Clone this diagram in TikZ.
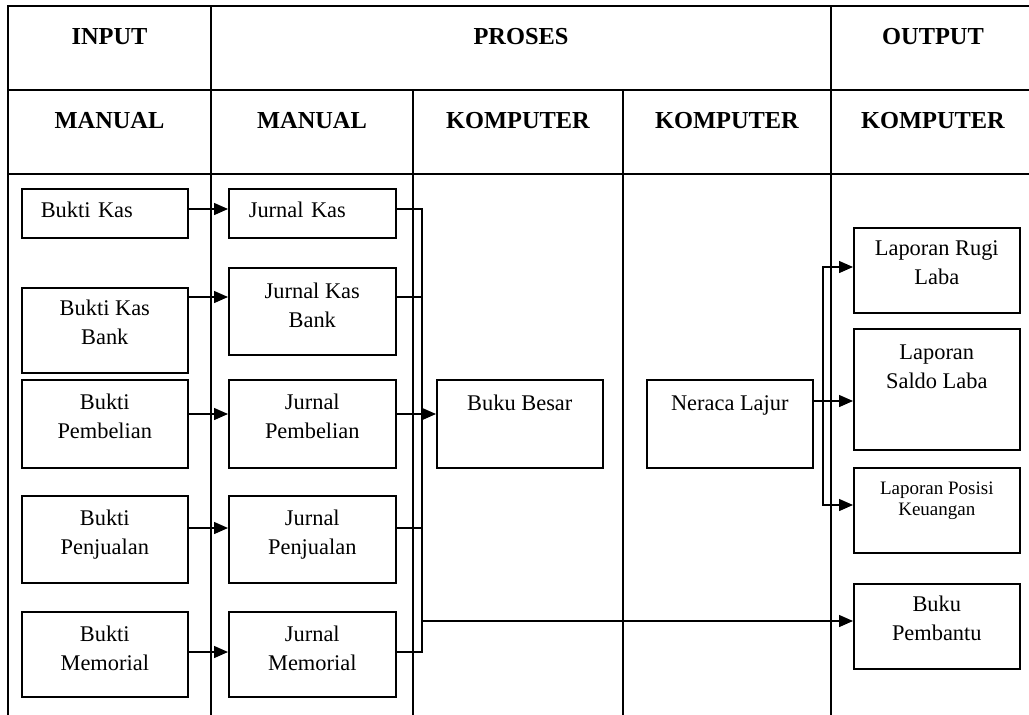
\documentclass[tikz,border=0pt]{standalone}
\usepackage{fontspec}
\setmainfont{Liberation Serif}
\usetikzlibrary{arrows.meta}
\tikzset{
  garis/.style={line width=1.8pt},
  judul/.style={font=\fontsize{24.4}{29}\selectfont\bfseries, anchor=base},
  kotak/.style={draw, line width=1.6pt, inner sep=0pt, align=center, anchor=north west,
    minimum width=166, font=\fontsize{22.4}{29}\selectfont},
  hubung/.style={line width=1.4pt},
  panah/.style={hubung, -{Triangle[length=14pt,width=12pt]}},
  panahdua/.style={hubung, {Triangle[length=14pt,width=12pt]}-{Triangle[length=14pt,width=12pt]}},
}
\begin{document}
\begin{tikzpicture}[x=1pt,y=-1pt]
\useasboundingbox (0,0) rectangle (1029,715);
% tabel
\draw[garis] (8,715) -- (8,6) -- (1029,6);
\draw[garis] (8,90) -- (1029,90);
\draw[garis] (8,174) -- (1029,174);
\draw[garis] (211,6) -- (211,715);
\draw[garis] (413,90) -- (413,715);
\draw[garis] (623,90) -- (623,715);
\draw[garis] (831,6) -- (831,715);
\node[judul] (hin) at (109.5,44) {INPUT};
\node[judul] (hpr) at (521,44) {PROSES};
\node[judul] (hout) at (933,44) {OUTPUT};
\node[judul] (hm1) at (109.5,128) {MANUAL};
\node[judul] (hm2) at (312,128) {MANUAL};
\node[judul] (hk1) at (518,128) {KOMPUTER};
\node[judul] (hk2) at (727,128) {KOMPUTER};
\node[judul] (hk3) at (933,128) {KOMPUTER};
% input manual
\node[kotak, text width=128, inner xsep=19, align=left, text height=28.7, text depth=20.3] (bk) at (21,188) {Bukti Kas};
\node[kotak, text height=57, text depth=28] (bkb) at (21,287) {Bukti Kas\\Bank};
\node[kotak, text height=59, text depth=29] (bp) at (21,379) {Bukti\\Pembelian};
\node[kotak, text height=59, text depth=28] (bpj) at (21,495) {Bukti\\Penjualan};
\node[kotak, text height=59, text depth=26] (bm) at (21,611) {Bukti\\Memorial};
% proses manual
\node[kotak, minimum width=167, text width=127, inner xsep=20, align=left, text height=28.7, text depth=20.3] (jk) at (228,188) {Jurnal Kas};
\node[kotak, minimum width=167, text height=59.7, text depth=27.3] (jkb) at (228,267) {Jurnal Kas\\Bank};
\node[kotak, minimum width=167, text height=59, text depth=29] (jp) at (228,379) {Jurnal\\Pembelian};
\node[kotak, minimum width=167, text height=59, text depth=28] (jpj) at (228,495) {Jurnal\\Penjualan};
\node[kotak, minimum width=167, text height=59, text depth=26] (jm) at (228,611) {Jurnal\\Memorial};
% proses komputer
\node[kotak, text height=31, text depth=57] (bb) at (436,379) {Buku Besar};
\node[kotak, text height=31, text depth=57] (nl) at (646,379) {Neraca Lajur};
% output
\node[kotak, text height=57, text depth=28] (lrl) at (853,227) {Laporan Rugi\\Laba};
\node[kotak, text height=60, text depth=61] (lsl) at (853,328) {Laporan\\Saldo Laba};
\node[kotak, font=\fontsize{19}{21}\selectfont, text height=48, text depth=37] (lpk) at (853,467) {Laporan Posisi\\Keuangan};
\node[kotak, text height=57, text depth=28] (bpb) at (853,583) {Buku\\Pembantu};
% jalur
\coordinate (busA) at (422,0);
\coordinate (busB) at (823,0);
\coordinate (b1) at (0,209);
\coordinate (b2) at (0,297);
\coordinate (b3) at (0,414);
\coordinate (b4) at (0,528);
\coordinate (b5) at (0,652);
\coordinate (b6) at (0,621);
\coordinate (b7) at (0,401);
\coordinate (b8) at (0,267);
\coordinate (b9) at (0,505);
\foreach \a/\b/\r in {bk/jk/b1, bkb/jkb/b2, bp/jp/b3, bpj/jpj/b4, bm/jm/b5}
  \draw[panah] (\a.east |- \r) -- (\b.west |- \r);
\draw[hubung] (jk.east |- b1) -- (busA |- b1) -- (busA |- b5) -- (jm.east |- b5);
\foreach \a/\r in {jkb/b2, jpj/b4}
  \draw[hubung] (\a.east |- \r) -- (busA |- \r);
\draw[panah] (jp.east |- b3) -- (bb.west |- b3);
\draw[panah] (busA |- b6) -- (bpb.west |- b6);
\draw[panah] (nl.east |- b7) -- (lsl.west |- b7);
\draw[panahdua] (lrl.west |- b8) -- (busB |- b8) -- (busB |- b9) -- (lpk.west |- b9);
\end{tikzpicture}
\end{document}
